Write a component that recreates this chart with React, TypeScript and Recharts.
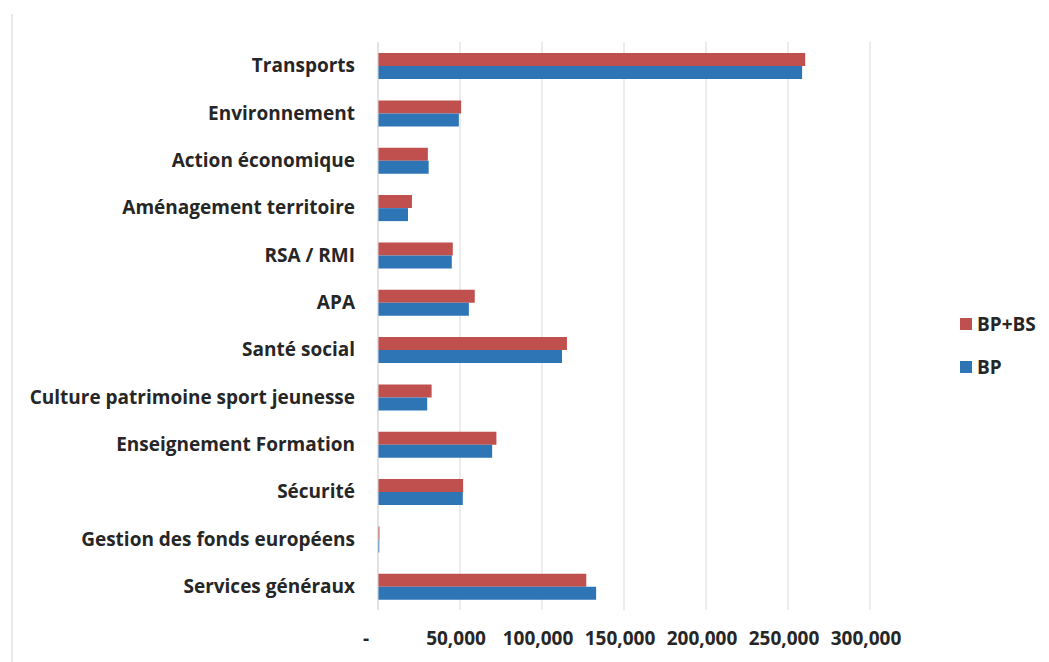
import { Bar, BarChart, CartesianGrid, XAxis, YAxis } from "recharts";

const categories = [
  "Transports",
  "Environnement",
  "Action économique",
  "Aménagement territoire",
  "RSA / RMI",
  "APA",
  "Santé social",
  "Culture patrimoine sport jeunesse",
  "Enseignement Formation",
  "Sécurité",
  "Gestion des fonds européens",
  "Services généraux",
];
const bpBs = [260500, 50700, 30400, 20700, 45600, 59000, 115200, 32700, 72200, 51900, 900, 127000];
const bp = [258600, 49300, 30900, 18300, 45000, 55400, 112200, 30000, 69600, 51700, 800, 133000];
const xTicks = [0, 50000, 100000, 150000, 200000, 250000, 300000];

const RED = "#C0504D";
const BLUE = "#2E75B6";
const FONT = "'Open Sans', sans-serif";

const rows = categories.map((name, i) => ({ name, bpBs: bpBs[i], bp: bp[i] }));

function XTick({ x, y, payload }: any) {
  const v = payload.value as number;
  return (
    <text
      x={v === 0 ? x - 12 : x - 4}
      y={y}
      dy="0.71em"
      textAnchor="middle"
      fontFamily={FONT}
      fontWeight={700}
      fontSize={19}
      fill="#262626"
    >
      {v === 0 ? "-" : v.toLocaleString("en-US")}
    </text>
  );
}

function LegendBox() {
  const items = [
    { label: "BP+BS", color: RED },
    { label: "BP", color: BLUE },
  ];
  return (
    <div
      style={{
        position: "absolute",
        left: 960,
        top: 302,
        fontFamily: FONT,
        fontWeight: 700,
        fontSize: 19,
        color: "#262626",
      }}
    >
      {items.map((it) => (
        <div key={it.label} style={{ display: "flex", alignItems: "center", height: 43 }}>
          <span style={{ width: 12, height: 12, background: it.color, marginRight: 5 }} />
          {it.label}
        </div>
      ))}
    </div>
  );
}

export default function App() {
  return (
    <div
      style={{
        position: "absolute",
        left: 0,
        top: 0,
        width: 1049,
        height: 662,
        background: "#fff",
      }}
    >
      <div
        style={{
          position: "absolute",
          left: 11,
          top: 14,
          width: 2,
          height: 648,
          background: "#e8e8e8",
        }}
      />
      <BarChart
        width={1049}
        height={662}
        data={rows}
        layout="vertical"
        margin={{ top: 42, right: 179, left: 0, bottom: 0 }}
        barCategoryGap="23.5%"
        barGap={0}
      >
        <CartesianGrid horizontal={false} stroke="#d9d9d9" />
        <XAxis
          type="number"
          domain={[0, 300000]}
          ticks={xTicks}
          axisLine={false}
          tickLine={false}
          tickSize={0}
          tickMargin={22}
          height={52}
          tick={<XTick />}
          interval={0}
        />
        <YAxis
          type="category"
          dataKey="name"
          width={378}
          axisLine={{ stroke: "#d9d9d9" }}
          tickLine={false}
          tickSize={0}
          tickMargin={23}
          interval={0}
          tick={{ fontFamily: FONT, fontWeight: 700, fontSize: 19, fill: "#262626" }}
        />
        <Bar dataKey="bpBs" name="BP+BS" fill={RED} isAnimationActive={false} />
        <Bar dataKey="bp" name="BP" fill={BLUE} isAnimationActive={false} />
      </BarChart>
      <LegendBox />
    </div>
  );
}
